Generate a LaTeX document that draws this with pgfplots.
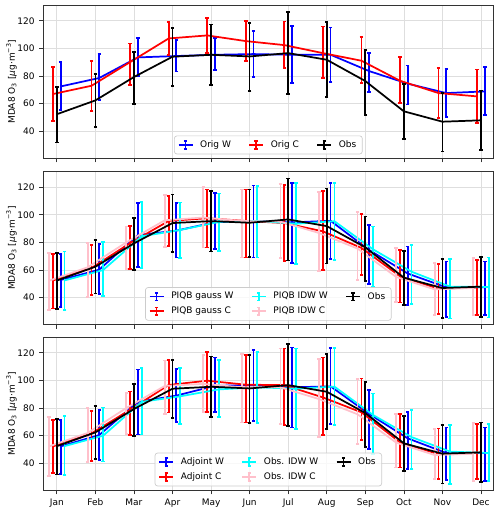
\documentclass[border=0pt]{standalone}
\usepackage{fontspec}
\setmainfont{DejaVu Sans}
\usepackage{pgfplots}
\usepackage{pgfplotstable}
\pgfplotsset{compat=1.18}

\definecolor{mblue}{rgb}{0,0,1}
\definecolor{mred}{rgb}{1,0,0}
\definecolor{mcyan}{rgb}{0,1,1}
\definecolor{mpink}{HTML}{FFC0CB}
\definecolor{mblack}{rgb}{0,0,0}
\newcommand\fsz{\fontsize{6.75pt}{8pt}\selectfont}

% monthly means (y) with lower / upper ends of the error bars (lo, hi)
\pgfplotstableread{
m y lo hi
0 52.4 32.0 72.3
1 62.4 43.1 81.7
2 79.3 59.8 97.5
3 94.0 72.8 114.7
4 95.4 73.5 117.3
5 94.2 69.4 118.3
6 96.6 67.0 126.3
7 91.8 64.8 119.0
8 76.4 52.0 98.8
9 54.5 34.5 74.0
10 47.0 25.5 67.8
11 48.0 26.3 69.6
}\obs

\pgfplotstableread{
m y lo hi
0 72.5 55.7 90.1
1 78.6 62.9 95.9
2 93.5 80.2 107.5
3 94.5 83.4 106.0
4 95.4 84.3 107.5
5 95.9 79.3 112.5
6 95.4 74.9 116.4
7 95.4 75.7 115.2
8 83.6 68.4 96.6
9 74.5 59.5 87.7
10 67.7 50.4 85.1
11 68.9 51.6 86.3
}\origW

\pgfplotstableread{
m y lo hi
0 67.0 47.7 86.3
1 73.0 54.9 90.8
2 90.1 73.7 103.6
3 107.2 95.4 119.0
4 109.4 96.6 121.9
5 105.3 90.8 120.0
6 102.4 85.8 119.5
7 96.6 78.8 115.9
8 91.1 74.9 108.0
9 76.6 60.5 94.0
10 67.7 49.6 85.8
11 65.3 46.0 84.8
}\origC

\pgfplotstableread{
m y lo hi
0 52.8 33.5 71.5
1 60.3 42.7 78.8
2 85.3 62.3 108.6
3 88.5 69.1 108.5
4 94.6 75.2 115.9
5 95.5 69.1 121.2
6 94.5 65.0 123.2
7 95.6 68.1 123.2
8 74.5 50.0 92.5
9 57.5 34.7 77.1
10 47.5 26.2 66.2
11 47.5 27.4 66.2
}\gaussW

\pgfplotstableread{
m y lo hi
0 52.5 32.2 71.5
1 61.5 41.9 78.3
2 79.5 60.6 91.9
3 95.5 77.5 113.5
4 97.5 76.4 118.3
5 95.5 69.1 118.3
6 94.0 66.7 121.5
7 88.0 60.1 117.1
8 76.0 56.5 100.8
9 55.5 36.6 74.7
10 46.5 28.1 64.5
11 47.5 27.4 67.4
}\gaussC

\pgfplotstableread{
m y lo hi
0 52.5 31.0 73.5
1 60.0 41.2 80.2
2 84.4 61.3 109.1
3 89.0 68.6 108.9
4 94.8 73.9 115.4
5 95.5 69.1 120.7
6 93.5 64.2 122.7
7 95.3 67.4 123.2
8 75.0 47.5 91.5
9 58.8 35.2 78.3
10 48.0 25.0 68.1
11 47.8 25.7 69.1
}\piqbIdwW

\pgfplotstableread{
m y lo hi
0 52.3 31.0 72.5
1 62.0 40.7 79.5
2 80.0 61.0 91.5
3 96.0 76.5 114.5
4 98.0 76.4 120.0
5 95.5 69.1 118.3
6 95.0 68.6 122.4
7 86.8 59.4 116.6
8 75.5 52.8 102.1
9 55.0 37.1 75.9
10 46.0 27.4 65.0
11 47.0 27.4 68.6
}\piqbIdwC

\pgfplotstableread{
m y lo hi
0 52.3 32.3 71.6
1 60.5 42.4 78.8
2 84.5 60.9 107.8
3 89.0 70.0 108.5
4 96.1 76.9 116.6
5 96.6 70.8 122.2
6 95.0 66.0 123.9
7 95.7 68.4 123.4
8 75.7 50.4 93.0
9 58.1 35.9 76.9
10 47.5 28.0 66.0
11 47.5 27.5 66.0
}\adjW

\pgfplotstableread{
m y lo hi
0 52.3 33.0 71.6
1 61.7 41.9 78.1
2 78.8 60.7 92.0
3 96.7 76.7 114.8
4 99.8 76.9 120.7
5 96.9 69.6 118.3
6 96.6 67.7 123.1
7 87.7 60.5 116.6
8 76.9 57.1 101.4
9 55.2 37.1 75.7
10 46.7 28.7 65.3
11 47.5 28.7 68.4
}\adjC

\pgfplotstableread{
m y lo hi
0 52.5 31.6 74.0
1 60.0 41.4 80.5
2 84.5 60.9 109.2
3 88.5 68.7 109.0
4 93.5 73.3 114.9
5 95.0 69.2 120.7
6 94.0 64.8 123.1
7 95.5 67.7 123.4
8 75.0 46.7 90.6
9 59.0 35.9 78.8
10 48.5 25.1 67.9
11 47.5 27.0 68.5
}\obsIdwW

\pgfplotstableread{
m y lo hi
0 52.3 31.1 73.3
1 62.0 41.2 79.8
2 80.0 61.4 91.1
3 96.0 75.9 114.5
4 97.5 76.9 118.3
5 95.0 69.6 119.0
6 95.0 68.4 123.1
7 86.5 59.3 115.4
8 75.5 54.0 101.0
9 55.0 37.1 75.7
10 46.0 28.7 64.8
11 47.0 27.5 69.2
}\obsIdwC

\pgfplotsset{
  panel/.style={
    scale only axis, width=337.5pt, height=115pt,
    xmin=-0.35, xmax=11.32, ymin=20.5, ymax=131.4,
    xtick={0,...,11}, ytick={40,60,80,100,120},
    grid=major, major grid style={black!13, line width=0.5pt},
    axis line style={black!80, line width=0.55pt},
    tick align=outside, tick pos=left, major tick length=3pt,
    tick style={black!80, line width=0.55pt},
    /pgf/number format/assume math mode=true,
    ticklabel style={font=\fsz},
    ylabel={MDA8 O\textsubscript{3} [{\itshape μ}g·m\textsuperscript{−3}]},
    every axis y label/.style={at={(axis description cs:-0.0707,0.5)},
      rotate=90, anchor=center, font=\fsz},
    legend cell align=left,
    legend columns=3,
    legend style={at={(0.5,0.026)}, anchor=south,
      draw=black!20, line width=0.5pt, rounded corners=2pt,
      fill=white, fill opacity=0.8, text opacity=1, font=\fsz,
      inner xsep=2.5pt, inner ysep=1.5pt, column sep=1pt, row sep=0.5pt,
      /tikz/every even column/.append style={column sep=11pt}},
    legend image code/.code={
      \draw[##1, line width=1.3pt] (0pt,0pt) -- (10.5pt,0pt);
      \draw[##1, line width=1.3pt] (5.25pt,-2.9pt) -- (5.25pt,2.9pt);
      \draw[##1, line width=1.3pt] (4pt,2.9pt) -- (6.5pt,2.9pt);
      \draw[##1, line width=1.3pt] (4pt,-2.9pt) -- (6.5pt,-2.9pt);
      \path (13pt,0pt);
    },
  },
  ebar/.style={no markers, line width=1.3pt, line join=round, forget plot,
    error bars/.cd, y dir=both, y explicit,
    error bar style={line width=1.3pt},
    error mark options={rotate=90, mark size=1.3pt, line width=1.3pt}},
}

\newcommand\series[3]{%
  \addplot[#1, ebar] table[x expr=\thisrow{m}+#2, y=y,
    y error plus expr=\thisrow{hi}-\thisrow{y},
    y error minus expr=\thisrow{y}-\thisrow{lo}] {#3};}

\begin{document}
\begin{tikzpicture}[font=\fsz]
\useasboundingbox (0,0) rectangle (375pt,384pt);

% top panel: original model runs
\begin{axis}[panel, at={(32.5pt,265.25pt)}, anchor=south west, xticklabels={}]
  \addlegendimage{mblue}\addlegendentry{Orig W}
  \addlegendimage{mred}\addlegendentry{Orig C}
  \addlegendimage{mblack}\addlegendentry{Obs}
  \series{mblue}{0.1}{\origW}
  \series{mred}{-0.1}{\origC}
  \series{mblack}{0}{\obs}
\end{axis}

% middle panel: PIQB estimates
\begin{axis}[panel, at={(32.5pt,140.5pt)}, anchor=south west, xticklabels={}]
  \addlegendimage{mblue}\addlegendentry{PIQB gauss W}
  \addlegendimage{mcyan}\addlegendentry{PIQB IDW W}
  \addlegendimage{mblack}\addlegendentry{Obs}
  \addlegendimage{mred}\addlegendentry{PIQB gauss C}
  \addlegendimage{mpink}\addlegendentry{PIQB IDW C}
  \series{mblue}{0.1}{\gaussW}
  \series{mred}{-0.1}{\gaussC}
  \series{mcyan}{0.2}{\piqbIdwW}
  \series{mpink}{-0.2}{\piqbIdwC}
  \series{mblack}{0}{\obs}
\end{axis}

% bottom panel: adjoint estimates
\begin{axis}[panel, at={(32.5pt,16.25pt)}, anchor=south west,
  xticklabels={Jan,Feb,Mar,Apr,May,Jun,Jul,Aug,Sep,Oct,Nov,Dec}]
  \addlegendimage{mblue}\addlegendentry{Adjoint W}
  \addlegendimage{mcyan}\addlegendentry{Obs. IDW W}
  \addlegendimage{mblack}\addlegendentry{Obs}
  \addlegendimage{mred}\addlegendentry{Adjoint C}
  \addlegendimage{mpink}\addlegendentry{Obs. IDW C}
  \series{mblue}{0.1}{\adjW}
  \series{mred}{-0.1}{\adjC}
  \series{mcyan}{0.2}{\obsIdwW}
  \series{mpink}{-0.2}{\obsIdwC}
  \series{mblack}{0}{\obs}
\end{axis}
\end{tikzpicture}
\end{document}
